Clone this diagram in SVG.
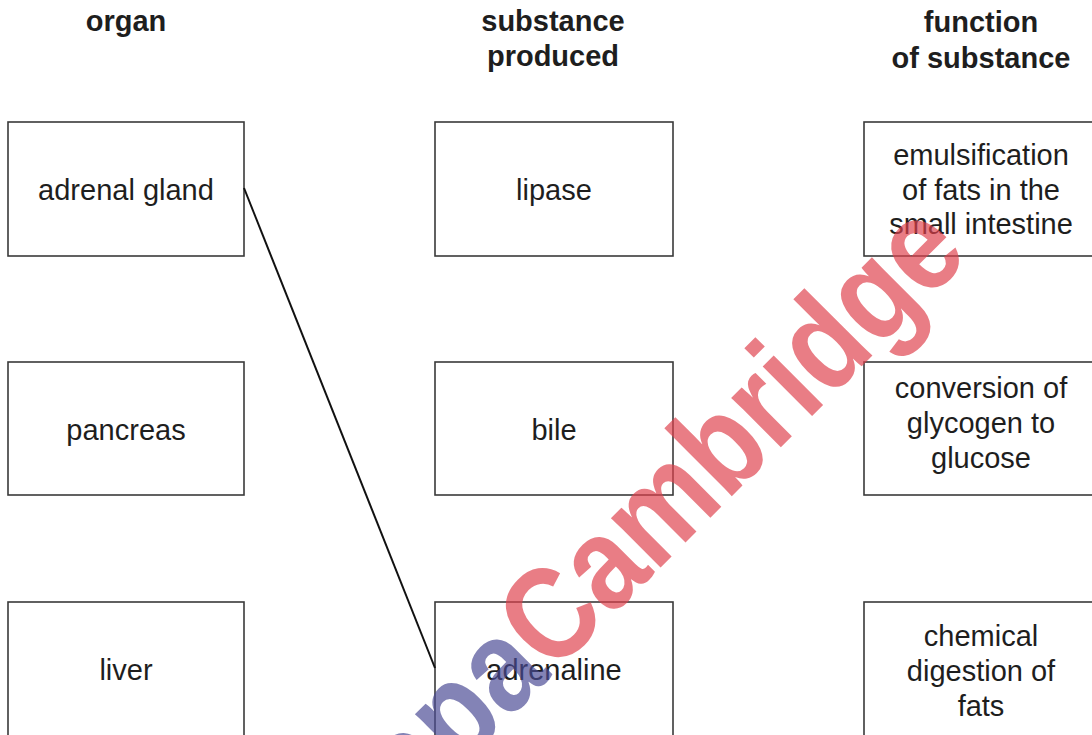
<svg xmlns="http://www.w3.org/2000/svg" width="1092" height="735" viewBox="0 0 1092 735">
<style>
.box{fill:#fff;stroke:#3a3a3a;stroke-width:1.6}
.t{font-family:"Liberation Sans",Arial,sans-serif;font-size:29px;fill:#1e1e1e;text-anchor:middle}
.h{font-family:"Liberation Sans",Arial,sans-serif;font-size:29px;font-weight:bold;fill:#1e1e1e;text-anchor:middle}
.wm{font-family:"Liberation Sans",Arial,sans-serif;font-size:126px;font-weight:bold}
</style>
<rect width="1092" height="735" fill="#fff"/>
<g id="headers">
<text class="h" x="126" y="31">organ</text>
<text class="h" x="553" y="31">substance</text>
<text class="h" x="553" y="66">produced</text>
<text class="h" x="981" y="32">function</text>
<text class="h" x="981" y="68">of substance</text>
</g>
<g id="organ-adrenal"><rect class="box" x="8" y="122" width="236" height="134"/><text class="t" x="126" y="200">adrenal gland</text></g>
<g id="organ-pancreas"><rect class="box" x="8" y="362" width="236" height="133"/><text class="t" x="126" y="440">pancreas</text></g>
<g id="organ-liver"><rect class="box" x="8" y="602" width="236" height="134"/><text class="t" x="126" y="680">liver</text></g>
<g id="sub-lipase"><rect class="box" x="435" y="122" width="238" height="134"/><text class="t" x="554" y="200">lipase</text></g>
<g id="sub-bile"><rect class="box" x="435" y="362" width="238" height="133"/><text class="t" x="554" y="440">bile</text></g>
<g id="sub-adrenaline"><rect class="box" x="435" y="602" width="238" height="134"/><text class="t" x="554" y="680">adrenaline</text></g>
<g id="fn-emulsification"><rect class="box" x="864" y="122" width="238" height="134"/><text class="t" x="981" y="165">emulsification</text><text class="t" x="981" y="200">of fats in the</text><text class="t" x="981" y="234">small intestine</text></g>
<g id="fn-conversion"><rect class="box" x="864" y="362" width="238" height="133"/><text class="t" x="981" y="398">conversion of</text><text class="t" x="981" y="433">glycogen to</text><text class="t" x="981" y="468">glucose</text></g>
<g id="fn-chemical"><rect class="box" x="864" y="602" width="238" height="134"/><text class="t" x="981" y="646">chemical</text><text class="t" x="981" y="681">digestion of</text><text class="t" x="981" y="716">fats</text></g>
<g id="connectors"><line x1="244" y1="188" x2="435" y2="668" stroke="#111" stroke-width="2"/></g>
<g id="watermark" transform="translate(762,466) rotate(-45) scale(0.9,1.05)" opacity="0.68">
<text class="wm" x="0" y="0" text-anchor="middle" fill="#e0404c">Cambridge</text>
<text class="wm" x="-329" y="0" text-anchor="end" fill="#4a4a94">Papa</text>
</g>
</svg>
